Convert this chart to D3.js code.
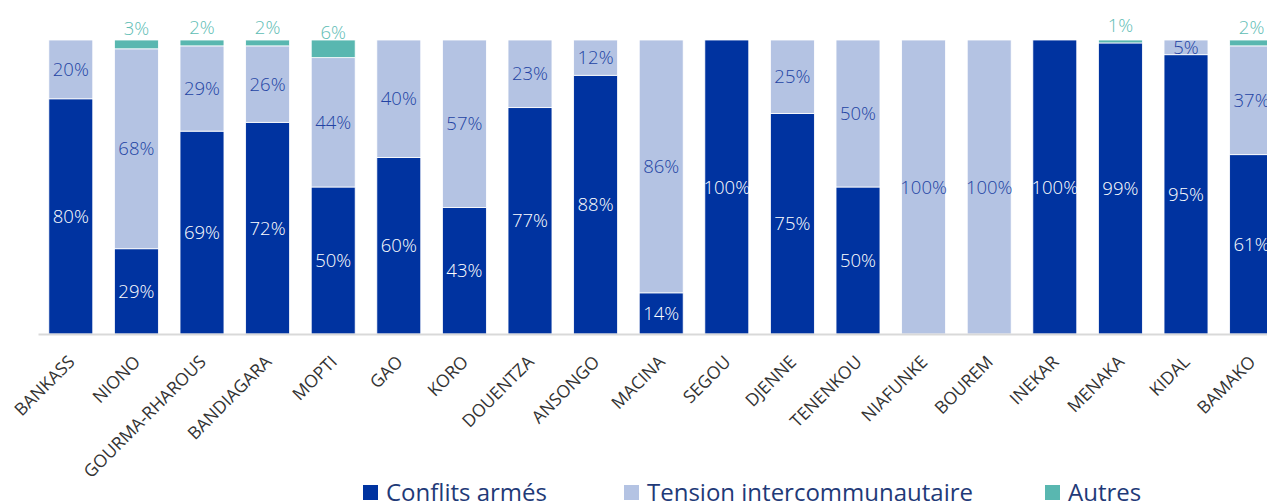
<!DOCTYPE html>
<html>
<head>
<meta charset="utf-8">
<script src="https://cdn.jsdelivr.net/npm/d3@7/dist/d3.min.js"></script>
<style>
  html, body { margin: 0; padding: 0; background: #fff; overflow: hidden; }
  svg { display: block; font-family: "Open Sans", sans-serif; }
</style>
</head>
<body>
<svg id="chart" width="1267" height="503"></svg>
<script>
const categories = ["BANKASS","NIONO","GOURMA-RHAROUS","BANDIAGARA","MOPTI","GAO","KORO","DOUENTZA","ANSONGO","MACINA","SEGOU","DJENNE","TENENKOU","NIAFUNKE","BOUREM","INEKAR","MENAKA","KIDAL","BAMAKO"];
const seriesNames = ["Conflits armés","Tension intercommunautaire","Autres"];
const conflits = [80,29,69,72,50,60,43,77,88,14,100,75,50,0,0,100,99,95,61];
const tension  = [20,68,29,26,44,40,57,23,12,86,0,25,50,100,100,0,0,5,37];
const autres   = [0,3,2,2,6,0,0,0,0,0,0,0,0,0,0,0,1,0,2];
const colors = ["#0033A0","#B4C3E3","#59B7B0"];
const labelColors = ["#FFFFFF","#2343A3","#5EBDB5"];

const svg = d3.select("#chart");

const x = d3.scaleBand().domain(categories)
  .range([38, 38 + 19 * 65.6]).paddingInner(0.33).paddingOuter(0.165);
const y = d3.scaleLinear().domain([0, 100]).range([334, 40]);

const rows = categories.map((c, i) => ({cat: c, s0: conflits[i], s1: tension[i], s2: autres[i]}));
const stacked = d3.stack().keys(["s0","s1","s2"])(rows);

const gBars = svg.append("g");
stacked.forEach((layer, li) => {
  gBars.append("g").selectAll("rect").data(layer.filter(d => d[1] - d[0] > 0)).join("rect")
    .attr("x", d => x(d.data.cat))
    .attr("width", x.bandwidth())
    .attr("y", d => y(d[1]))
    .attr("height", d => y(d[0]) - y(d[1]))
    .attr("fill", colors[li])
    .attr("stroke", "#fff")
    .attr("stroke-width", 0.8);
});

// axis
const axis = svg.append("g").attr("transform", "translate(0,334)")
  .call(d3.axisBottom(x).tickSize(0).tickPadding(0));
axis.select(".domain").attr("stroke", "#D9D9D9").attr("stroke-width", 2);
axis.selectAll(".tick text")
  .attr("font-family", "'Open Sans', sans-serif")
  .attr("font-size", 17.5)
  .attr("fill", "#333333")
  .attr("text-anchor", "end")
  .attr("y", 0).attr("dy", 0)
  .attr("transform", "translate(5,29) rotate(-45)");

// labels
const gLab = svg.append("g").attr("font-family", "'Open Sans', sans-serif").attr("font-size", 18.5).attr("font-weight", 300);
stacked.forEach((layer, li) => {
  gLab.append("g").selectAll("text").data(layer.filter(d => d[1] - d[0] > 0)).join("text")
    .attr("x", d => x(d.data.cat) + x.bandwidth() / 2)
    .attr("y", d => (y(d[0]) + y(d[1])) / 2 - (li === 2 ? 16 : 0))
    .attr("dy", "0.36em")
    .attr("text-anchor", "middle")
    .attr("fill", labelColors[li])
    .text(d => (d[1] - d[0]) + "%");
});

// legend
const legendX = [363, 624, 1045];
const leg = svg.append("g");
seriesNames.forEach((n, i) => {
  leg.append("rect").attr("x", legendX[i]).attr("y", 485).attr("width", 15).attr("height", 15).attr("fill", colors[i]);
  leg.append("text").attr("x", legendX[i] + 23).attr("y", 500.5)
    .attr("font-size", 24).attr("fill", "#1F3A78").text(n);
});
</script>
</body>
</html>
